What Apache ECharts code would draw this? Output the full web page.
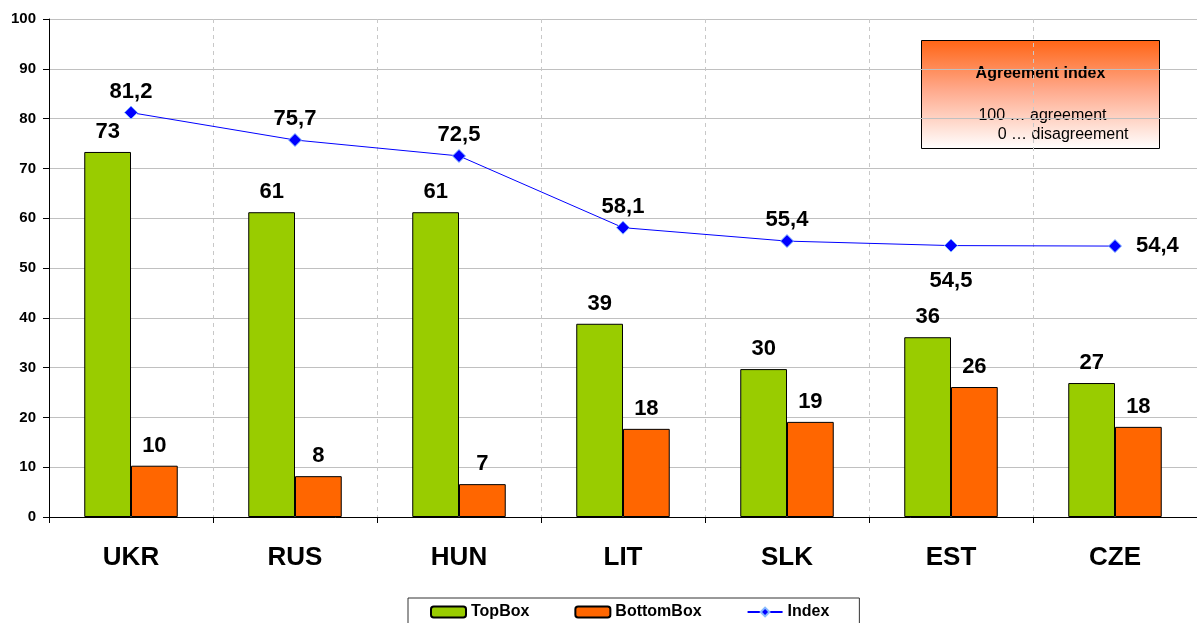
<!DOCTYPE html>
<html>
<head>
<meta charset="utf-8">
<style>
html,body{margin:0;padding:0;background:#fff;overflow:hidden;}
#c{width:1197px;height:623px;}
</style>
<script src="https://cdn.jsdelivr.net/npm/echarts@6/dist/echarts.min.js"></script>
</head>
<body>
<div id="c"></div>
<script>
const categories = ['UKR','RUS','HUN','LIT','SLK','EST','CZE'];
const topBox = [73.3, 61.2, 61.2, 38.8, 29.7, 36.1, 26.9];
const bottomBox = [10.3, 8.2, 6.6, 17.7, 19.1, 26.1, 18.1];
const indexVals = [81.2, 75.7, 72.5, 58.1, 55.4, 54.5, 54.4];
const yTicks = [0,10,20,30,40,50,60,70,80,90,100];

const FONT = '"Liberation Sans", Arial, sans-serif';
const chart = echarts.init(document.getElementById('c'));

const lineData = indexVals.map((v, i) => {
  const d = {value: v};
  if (i === 5) d.label = {position: 'bottom', distance: 17};
  if (i === 6) d.label = {position: 'right', distance: 14};
  return d;
});

const labelBase = {fontFamily: FONT, fontWeight: 'bold', fontSize: 22, color: '#000'};

chart.setOption({
  animation: false,
  textStyle: {fontFamily: FONT},
  grid: {left: 49, right: -7, top: 19, bottom: 106, containLabel: false},
  legend: {
    left: 408, top: 598,
    data: ['TopBox','BottomBox','Index'],
    itemWidth: 35, itemHeight: 11, itemGap: 45,
    padding: [6, 30, 20, 22],
    borderColor: '#333', borderWidth: 1,
    textStyle: {fontFamily: FONT, fontWeight: 'bold', fontSize: 16, color: '#000'}
  },
  xAxis: {
    type: 'category', data: categories,
    axisLine: {lineStyle: {color: '#000', width: 1}},
    axisTick: {show: true, inside: false, length: 6, lineStyle: {color: '#000'}},
    axisLabel: {fontFamily: FONT, fontWeight: 'bold', fontSize: 26, color: '#000', margin: 28},
    splitLine: {show: true, lineStyle: {color: '#c8c8c8', type: [4, 4], width: 1}}
  },
  yAxis: {
    type: 'value', min: 0, max: 100, interval: 10,
    axisLine: {show: true, lineStyle: {color: '#000', width: 1}},
    axisTick: {show: true, length: 6, lineStyle: {color: '#000'}},
    axisLabel: {fontFamily: FONT, fontWeight: 'bold', fontSize: 15, color: '#000', margin: 13,
      formatter: v => yTicks.includes(v) ? String(v) : ''},
    splitLine: {show: true, lineStyle: {color: '#c0c0c0', width: 1}}
  },
  series: [
    {
      name: 'TopBox', type: 'bar', data: topBox,
      barGap: '0%', barCategoryGap: '43%',
      itemStyle: {color: '#99CC00', borderColor: '#000', borderWidth: 1},
      label: Object.assign({show: true, position: 'top', distance: 9, formatter: p => Math.round(p.value)}, labelBase)
    },
    {
      name: 'BottomBox', type: 'bar', data: bottomBox,
      itemStyle: {color: '#FF6600', borderColor: '#000', borderWidth: 1},
      label: Object.assign({show: true, position: 'top', distance: 9, formatter: p => Math.round(p.value)}, labelBase)
    },
    {
      name: 'Index', type: 'line', data: lineData,
      symbol: 'diamond', symbolSize: 13,
      lineStyle: {color: '#0000FF', width: 1},
      itemStyle: {color: '#0000FF', borderColor: '#88bbff', borderWidth: 1},
      label: Object.assign({show: true, position: 'top', distance: 3,
        formatter: p => p.value.toFixed(1).replace('.', ',')}, labelBase),
      z: 5
    }
  ],
  graphic: [
    {
      type: 'group', left: 921, top: 40, z: 10,
      children: [
        {type: 'rect', shape: {x: 0, y: 0, width: 238, height: 108},
          style: {fill: new echarts.graphic.LinearGradient(0, 0, 0, 1, [
            {offset: 0, color: '#FF6414'}, {offset: 0.45, color: '#FFA88A'}, {offset: 1, color: '#FFFFFF'}]),
            stroke: '#000', lineWidth: 1}},
        {type: 'text', x: 119, y: 33, style: {text: 'Agreement index', fill: '#000', fontFamily: FONT, fontWeight: 'bold', fontSize: 16, align: 'center', verticalAlign: 'middle'}},
        {type: 'text', x: 185, y: 75, style: {text: '100 … agreement', fill: '#000', fontFamily: FONT, fontSize: 16, align: 'right', verticalAlign: 'middle'}},
        {type: 'text', x: 207, y: 94, style: {text: '0 … disagreement', fill: '#000', fontFamily: FONT, fontSize: 16, align: 'right', verticalAlign: 'middle'}}
      ]
    }
  ]
});
</script>
</body>
</html>
